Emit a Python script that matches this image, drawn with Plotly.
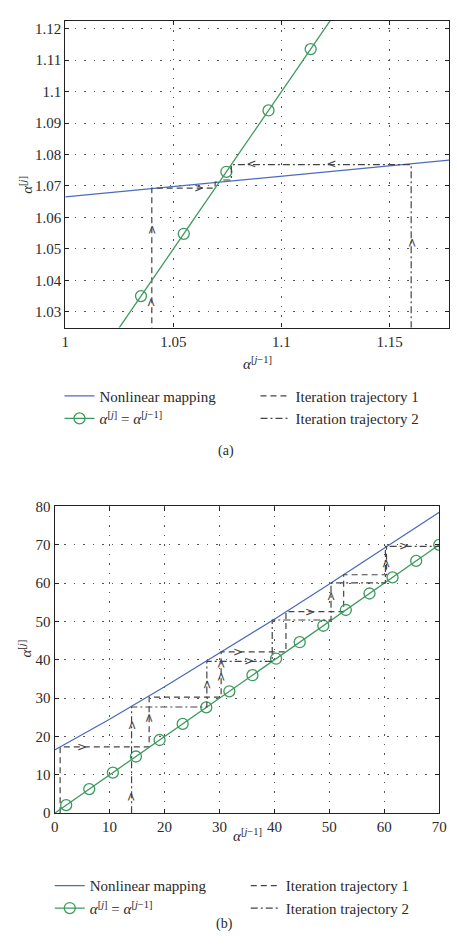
import plotly.graph_objects as go

# ---------------- data: panel (a) ----------------
a_map_x = [1.0, 1.05, 1.10, 1.15, 1.18]
a_map_y = [1.0665, 1.0698, 1.0731, 1.0764, 1.0784]
a_id_line = [1.02, 1.13]
a_id_markers = [1.035, 1.0548, 1.0745, 1.094, 1.1135]
a_traj1_x = [1.04, 1.04, 1.0693, 1.0693, 1.0712]
a_traj1_y = [1.02, 1.0693, 1.0693, 1.0712, 1.0712]
a_traj2_x = [1.16, 1.16, 1.0768, 1.0768, 1.0719]
a_traj2_y = [1.02, 1.0768, 1.0768, 1.0719, 1.0719]
a_arrow_x = [1.04, 1.04, 1.062, 1.16, 1.123, 1.086]
a_arrow_y = [1.033, 1.056, 1.0693, 1.052, 1.0768, 1.0768]
a_arrow_dir = ["up", "up", "right", "up", "left", "left"]
a_xticks = [1.0, 1.05, 1.10, 1.15]
a_xticklabels = ["1", "1.05", "1.1", "1.15"]
a_yticks = [1.03, 1.04, 1.05, 1.06, 1.07, 1.08, 1.09, 1.10, 1.11, 1.12]
a_yticklabels = ["1.03", "1.04", "1.05", "1.06", "1.07", "1.08", "1.09", "1.1", "1.11", "1.12"]

# ---------------- data: panel (b) ----------------
b_map_x = [0, 5, 10, 20, 30, 40, 50, 60, 70]
b_map_y = [16.5, 20.4, 24.5, 33.0, 41.7, 50.6, 59.8, 69.2, 78.5]
b_id_line = [0, 70]
b_id_markers = [2.1, 6.3, 10.6, 14.8, 19.1, 23.3, 27.6, 31.8, 36.0, 40.3,
                44.6, 48.9, 53.0, 57.3, 61.5, 65.8, 70.0]
b_traj1_x = [1.0, 1.0, 17.2, 17.2, 30.3, 30.3, 42.1, 42.1, 52.6, 52.6, 60.4, 60.4]
b_traj1_y = [0, 17.3, 17.3, 30.3, 30.3, 42.1, 42.1, 52.6, 52.6, 62.2, 62.2, 69.6]
b_traj2_x = [14.0, 14.0, 27.7, 27.7, 39.6, 39.6, 50.3, 50.3, 60.2, 60.2, 70]
b_traj2_y = [0, 27.7, 27.7, 39.6, 39.6, 50.4, 50.4, 60.1, 60.1, 69.6, 69.6]
b_arrow_x = [5.0, 17.2, 30.3, 30.3, 33.4, 46.5, 60.3, 14.0, 14.0, 27.7, 35.3, 50.3, 63.5]
b_arrow_y = [17.3, 24.9, 35.6, 39.0, 42.1, 52.6, 65.1, 4.2, 22.8, 33.5, 39.6, 56.6, 69.6]
b_arrow_dir = ["right", "up", "up", "up", "right", "right", "up",
               "up", "up", "up", "right", "up", "right"]
b_ticks_x = [0, 10, 20, 30, 40, 50, 60, 70]
b_ticks_y = [0, 10, 20, 30, 40, 50, 60, 70, 80]

# ---------------- styles ----------------
W, H = 457, 952
BLUE = "#4b6cbd"
GREEN = "#3d9a5e"
TRAJ = "#444444"
FONT = "Liberation Serif"
TXT = "#2a2a2a"
GRID_DASH = "1.5px,8px"

def px(x):
    return x / W

def py(y):
    return 1 - y / H

fig = go.Figure()

name_map = "Nonlinear mapping"
name_id = "<i>α</i><sup>[<i>j</i>]</sup> = <i>α</i><sup>[<i>j</i>−1]</sup>"
name_t1 = "Iteration trajectory 1"
name_t2 = "Iteration trajectory 2"

def add_panel(xa, ya, leg, map_x, map_y, id_line, id_mk, t1x, t1y, t2x, t2y):
    fig.add_trace(go.Scatter(x=map_x, y=map_y, mode="lines", name=name_map,
                             line=dict(color=BLUE, width=1.3), xaxis=xa, yaxis=ya,
                             legend=leg, legendrank=1))
    fig.add_trace(go.Scatter(x=t1x, y=t1y, mode="lines", name=name_t1,
                             line=dict(color=TRAJ, width=1.2, dash="6px,4px"),
                             xaxis=xa, yaxis=ya, legend=leg, legendrank=2))
    fig.add_trace(go.Scatter(x=id_line, y=id_line, mode="lines", showlegend=False,
                             line=dict(color=GREEN, width=1.3), xaxis=xa, yaxis=ya))
    fig.add_trace(go.Scatter(x=id_mk, y=id_mk, mode="markers", name=name_id,
                             marker=dict(symbol="circle-open", size=11, color=GREEN,
                                         line=dict(width=1.3, color=GREEN)),
                             xaxis=xa, yaxis=ya, showlegend=False))
    # legend proxy for line+marker
    fig.add_trace(go.Scatter(x=[None], y=[None], mode="lines+markers", name=name_id,
                             line=dict(color=GREEN, width=1.3),
                             marker=dict(symbol="circle-open", size=11, color=GREEN,
                                         line=dict(width=1.3, color=GREEN)),
                             xaxis=xa, yaxis=ya, legend=leg, legendrank=3))
    fig.add_trace(go.Scatter(x=t2x, y=t2y, mode="lines", name=name_t2,
                             line=dict(color=TRAJ, width=1.2, dash="7px,3px,2px,3px"),
                             xaxis=xa, yaxis=ya, legend=leg, legendrank=4))

add_panel("x", "y", "legend", a_map_x, a_map_y, a_id_line, a_id_markers,
          a_traj1_x, a_traj1_y, a_traj2_x, a_traj2_y)
add_panel("x2", "y2", "legend2", b_map_x, b_map_y, b_id_line, b_id_markers,
          b_traj1_x, b_traj1_y, b_traj2_x, b_traj2_y)

angles = {"up": -90, "right": 0, "left": 180, "down": 90}
annotations = []
for xs, ys, ds, xr, yr in [(a_arrow_x, a_arrow_y, a_arrow_dir, "x", "y"),
                           (b_arrow_x, b_arrow_y, b_arrow_dir, "x2", "y2")]:
    for x, y, d in zip(xs, ys, ds):
        annotations.append(dict(x=x, y=y, xref=xr, yref=yr, text="&gt;",
                                showarrow=False, textangle=angles[d],
                                font=dict(family="DejaVu Sans", size=12, color=TRAJ)))

title_font = dict(family=FONT, size=15, color=TXT)
annotations += [
    dict(x=px(260), y=py(361), xref="paper", yref="paper", showarrow=False,
         text="<i>α</i><sup>[<i>j</i>−1]</sup>", font=title_font),
    dict(x=px(11), y=py(169), xref="paper", yref="paper", showarrow=False,
         text="<i>α</i><sup>[<i>j</i>]</sup>", textangle=-90, font=title_font),
    dict(x=px(250), y=py(852), xref="paper", yref="paper", showarrow=False,
         text="<i>α</i><sup>[<i>j</i>−1]</sup>", font=title_font),
    dict(x=px(10), y=py(663), xref="paper", yref="paper", showarrow=False,
         text="<i>α</i><sup>[<i>j</i>]</sup>", textangle=-90, font=title_font),
    dict(x=px(228), y=py(451), xref="paper", yref="paper", showarrow=False,
         text="(a)", font=dict(family=FONT, size=14, color=TXT)),
    dict(x=px(226), y=py(942), xref="paper", yref="paper", showarrow=False,
         text="(b)", font=dict(family=FONT, size=14, color=TXT)),
]

axis_common = dict(showline=True, linecolor="#222", linewidth=1.2, mirror="ticks",
                   ticks="inside", ticklen=4, tickcolor="#222",
                   showgrid=True, gridcolor="#555", gridwidth=1, griddash=GRID_DASH,
                   zeroline=False, tickfont=dict(family=FONT, size=15, color=TXT))

fig.update_layout(
    width=W, height=H, margin=dict(l=0, r=0, t=0, b=0),
    paper_bgcolor="white", plot_bgcolor="white",
    showlegend=True,
    xaxis=dict(domain=[px(63), 1.0], range=[1.0, 1.1775], tickvals=a_xticks,
               ticktext=a_xticklabels, anchor="y", **axis_common),
    yaxis=dict(domain=[py(325), py(13)], range=[1.025, 1.1225], tickvals=a_yticks,
               ticktext=a_yticklabels, anchor="x", **axis_common),
    xaxis2=dict(domain=[px(52), px(447)], range=[0, 70], tickvals=b_ticks_x,
                anchor="y2", **axis_common),
    yaxis2=dict(domain=[py(819), py(507)], range=[0, 80], tickvals=b_ticks_y,
                anchor="x2", **axis_common),
    legend=dict(x=px(57), y=py(378), xanchor="left", yanchor="top",
                orientation="h", entrywidth=151, traceorder="normal",
                font=dict(family=FONT, size=15, color=TXT),
                bgcolor="rgba(0,0,0,0)", tracegroupgap=0, itemwidth=30),
    legend2=dict(x=px(47), y=py(876), xanchor="left", yanchor="top",
                 orientation="h", entrywidth=151, traceorder="normal",
                 font=dict(family=FONT, size=15, color=TXT),
                 bgcolor="rgba(0,0,0,0)", tracegroupgap=0, itemwidth=30),
    annotations=annotations,
)

fig.write_html("out.html")
